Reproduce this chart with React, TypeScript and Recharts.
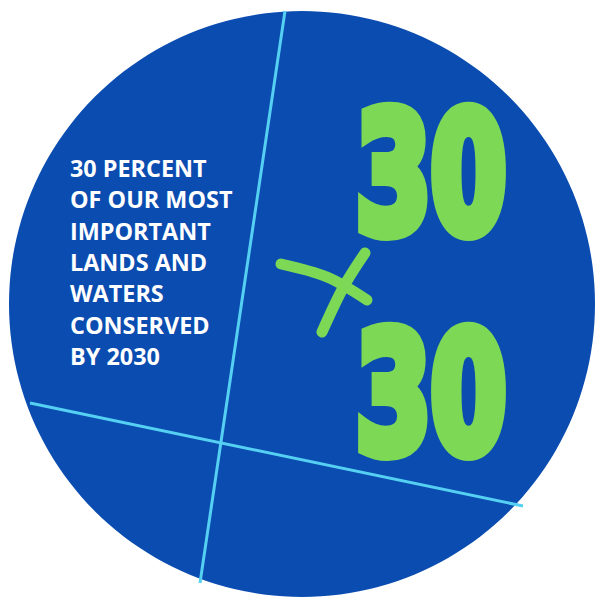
import {
  PieChart,
  Pie,
  Cell,
  ComposedChart,
  Line,
  XAxis,
  YAxis,
  Customized,
} from "recharts";

const W = 597;
const H = 598;

// the round badge as a single full slice
const badge = [{ name: "30x30", value: 100 }];

// the two light blue map lines (pixel space of the badge)
const lineA = [
  { x: 285, y: 11 },
  { x: 200, y: 583 },
];
const lineB = [
  { x: 30, y: 403 },
  { x: 523, y: 506 },
];

// hand drawn "x" between the two numbers
const crossA = [
  { x: 281, y: 264 },
  { x: 327, y: 277 },
  { x: 367, y: 300 },
];
const crossB = [
  { x: 365, y: 253 },
  { x: 343, y: 288 },
  { x: 322, y: 332 },
];

const caption = [
  "30 PERCENT",
  "OF OUR MOST",
  "IMPORTANT",
  "LANDS AND",
  "WATERS",
  "CONSERVED",
  "BY 2030",
];
const bigNumbers = ["30", "30"];

const BLUE = "#0a4cb0";
const CYAN = "#55d0f2";
const GREEN = "#7dd856";

function Caption() {
  return (
    <g>
      {caption.map((t, i) => (
        <text
          key={i}
          x={70}
          y={177 + i * 31.3}
          fill="#ffffff"
          fontFamily="'Open Sans', sans-serif"
          fontWeight={700}
          fontSize={23.4}
        >
          {t}
        </text>
      ))}
      {bigNumbers.map((t, i) => (
        <text
          key={"n" + i}
          x={356}
          y={[232, 452][i]}
          fill={GREEN}
          stroke={GREEN}
          strokeWidth={14}
          strokeLinejoin="miter"
          fontFamily="'DejaVu Sans Condensed', 'DejaVu Sans', sans-serif"
          fontWeight={700}
          fontSize={166}
          textLength={150}
          lengthAdjust="spacingAndGlyphs"
        >
          {t}
        </text>
      ))}
    </g>
  );
}

export default function App() {
  return (
    <div
      style={{
        position: "absolute",
        left: 0,
        top: 0,
        width: W,
        height: H,
        background: "#ffffff",
      }}
    >
      <div style={{ position: "absolute", left: 0, top: 0 }}>
        <PieChart width={W} height={H} margin={{ top: 0, right: 0, bottom: 0, left: 0 }}>
          <Pie
            data={badge}
            dataKey="value"
            cx={302}
            cy={304}
            innerRadius={0}
            outerRadius={293}
            stroke="none"
            isAnimationActive={false}
          >
            {badge.map((d) => (
              <Cell key={d.name} fill={BLUE} />
            ))}
          </Pie>
        </PieChart>
      </div>
      <div style={{ position: "absolute", left: 0, top: 0 }}>
        <ComposedChart width={W} height={H} margin={{ top: 0, right: 0, bottom: 0, left: 0 }}>
          <XAxis type="number" dataKey="x" domain={[0, W]} hide />
          <YAxis type="number" dataKey="y" domain={[0, H]} reversed hide />
          <Line
            data={lineA}
            dataKey="y"
            stroke={CYAN}
            strokeWidth={3}
            dot={false}
            activeDot={false}
            isAnimationActive={false}
          />
          <Line
            data={lineB}
            dataKey="y"
            stroke={CYAN}
            strokeWidth={3}
            dot={false}
            activeDot={false}
            isAnimationActive={false}
          />
          <Line
            data={crossA}
            dataKey="y"
            type="natural"
            stroke={GREEN}
            strokeWidth={11}
            strokeLinecap="round"
            dot={false}
            activeDot={false}
            isAnimationActive={false}
          />
          <Line
            data={crossB}
            dataKey="y"
            type="natural"
            stroke={GREEN}
            strokeWidth={11}
            strokeLinecap="round"
            dot={false}
            activeDot={false}
            isAnimationActive={false}
          />
          <Customized component={Caption} />
        </ComposedChart>
      </div>
    </div>
  );
}
